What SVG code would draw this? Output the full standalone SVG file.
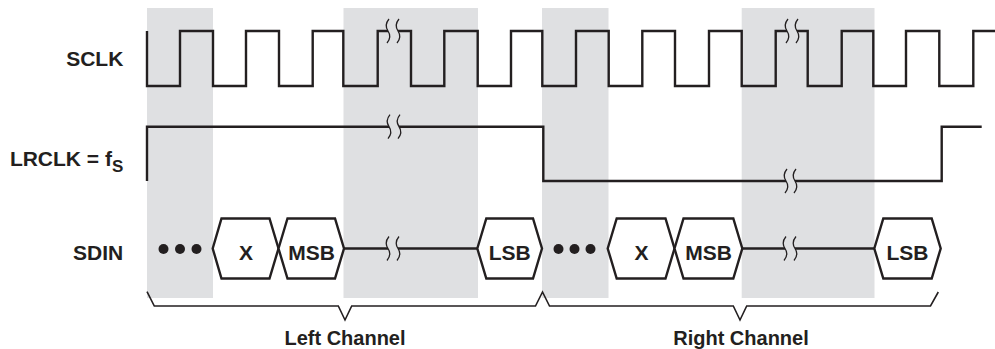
<svg xmlns="http://www.w3.org/2000/svg" width="995" height="349" viewBox="0 0 995 349">
<style>
.band{fill:#dfe0e2}
.sig{fill:none;stroke:#231f20;stroke-width:2.4;stroke-linejoin:miter;stroke-linecap:butt}
.brk{fill:none;stroke:#231f20;stroke-width:1.3}
.hex{fill:#fff;stroke:#231f20;stroke-width:2.4;stroke-linejoin:miter}
.brace{fill:none;stroke:#231f20;stroke-width:1.6}
.lbl{font-family:"Liberation Sans",Arial,sans-serif;font-weight:bold;font-size:21px;fill:#231f20}
.hl{font-family:"Liberation Sans",Arial,sans-serif;font-weight:bold;font-size:21px;fill:#231f20;text-anchor:middle}
.ch{font-family:"Liberation Sans",Arial,sans-serif;font-weight:bold;font-size:20px;fill:#231f20;text-anchor:middle}
.dot{fill:#231f20}
</style>
<defs>
<path id="bm" class="brk" d="M1,-12 Q-4,-6 0,0 Q4,6 -1,12"/>
</defs>
<rect width="995" height="349" fill="#fff"/>
<g id="bands">
<rect class="band" x="147" y="8" width="66" height="290"/>
<rect class="band" x="343.5" y="8" width="134.5" height="290"/>
<rect class="band" x="542" y="8" width="66.5" height="290"/>
<rect class="band" x="741.7" y="8" width="132.8" height="290"/>
</g>
<g id="labels">
<text class="lbl" x="123.3" y="65.5" text-anchor="end">SCLK</text>
<text class="lbl" x="123.3" y="166" text-anchor="end">LRCLK = f<tspan font-size="17" dy="6">S</tspan></text>
<text class="lbl" x="123.3" y="259.5" text-anchor="end">SDIN</text>
</g>
<g id="sclk">
<path class="sig" d="M147,31 V86 H180 V31 H213 V86 H246 V31 H279 V86 H312.7 V31 H343.3 V86 H377.7 V31 H388 M398,31 H411 V86 H444.3 V31 H477.7 V86 H511 V31 H542.3 V86 H576 V31 H608.7 V86 H642.3 V31 H675 V86 H709 V31 H741.7 V86 H775.7 V31 H787 M797,31 H807.7 V86 H841.7 V31 H873.3 V86 H906 V31 H939.3 V86 H973.3 V31 H995"/>
<use href="#bm" x="388" y="31"/><use href="#bm" x="398" y="31"/>
<use href="#bm" x="787" y="31"/><use href="#bm" x="797" y="31"/>
</g>
<g id="lrclk">
<path class="sig" d="M147,181 V126.7 H389 M399,126.7 H543.3 V181 H786 M795,181 H941.7 V126.7 H981.7"/>
<use href="#bm" x="389" y="126.7"/><use href="#bm" x="399" y="126.7"/>
<use href="#bm" x="786" y="181"/><use href="#bm" x="795" y="181"/>
</g>
<g id="sdin">
<circle class="dot" cx="163.5" cy="249" r="5"/>
<circle class="dot" cx="180" cy="249" r="5"/>
<circle class="dot" cx="196.5" cy="249" r="5"/>
<circle class="dot" cx="558.5" cy="249" r="5"/>
<circle class="dot" cx="574.5" cy="249" r="5"/>
<circle class="dot" cx="590.5" cy="249" r="5"/>
<path class="sig" d="M344,248.5 H388 M398,248.5 H477.3 M742.3,248.5 H785 M795,248.5 H874.3"/>
<use href="#bm" x="388" y="248.5"/><use href="#bm" x="398" y="248.5"/>
<use href="#bm" x="785" y="248.5"/><use href="#bm" x="795" y="248.5"/>
</g>
<g id="x1"><polygon class="hex" points="212.7,248.5 221.5,218.5 269.5,218.5 278.5,248.5 269.5,278.5 221.5,278.5"/><text class="hl" x="246" y="259.5">X</text></g>
<g id="msb1"><polygon class="hex" points="278.5,248.5 287.5,218.5 335,218.5 344,248.5 335,278.5 287.5,278.5"/><text class="hl" x="311.5" y="259.5">MSB</text></g>
<g id="lsb1"><polygon class="hex" points="477.3,248.5 486.3,218.5 533,218.5 542,248.5 533,278.5 486.3,278.5"/><text class="hl" x="509.7" y="259.5">LSB</text></g>
<g id="x2"><polygon class="hex" points="607.7,248.5 616.7,218.5 665.5,218.5 674.5,248.5 665.5,278.5 616.7,278.5"/><text class="hl" x="641.5" y="259.5">X</text></g>
<g id="msb2"><polygon class="hex" points="674.5,248.5 683.5,218.5 733.3,218.5 742.3,248.5 733.3,278.5 683.5,278.5"/><text class="hl" x="708.5" y="259.5">MSB</text></g>
<g id="lsb2"><polygon class="hex" points="874.3,248.5 883.3,218.5 931.7,218.5 940.7,248.5 931.7,278.5 883.3,278.5"/><text class="hl" x="907.5" y="259.5">LSB</text></g>
<g id="braces">
<path class="brace" d="M147,291.7 L154.3,306 H338.3 L345,320 L351.7,306 H535.5 L542.5,292 L549.5,306 H733.3 L740,320 L746.7,306 H930.5 L938.3,292"/>
<text class="ch" x="345" y="344.5">Left Channel</text>
<text class="ch" x="741" y="344.5">Right Channel</text>
</g>
</svg>
